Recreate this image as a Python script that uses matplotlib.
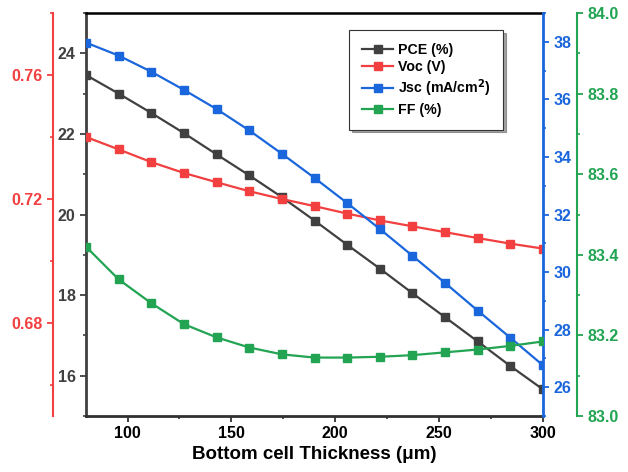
import matplotlib
matplotlib.use("Agg")
import matplotlib.pyplot as plt
from matplotlib.ticker import MultipleLocator, FormatStrFormatter

plt.rcParams['font.family'] = ['Liberation Sans', 'DejaVu Sans']
plt.rcParams['font.weight'] = 'bold'
plt.rcParams['mathtext.default'] = 'bf'

thickness = [80, 95.7, 111.4, 127.1, 142.9, 158.6, 174.3, 190, 205.7, 221.4, 237.1, 252.9, 268.6, 284.3, 300]
pce = [23.46, 23.00, 22.52, 22.02, 21.49, 20.97, 20.43, 19.85, 19.25, 18.66, 18.05, 17.45, 16.85, 16.24, 15.66]
voc = [0.7400, 0.7360, 0.7319, 0.7284, 0.7254, 0.7225, 0.7200, 0.7177, 0.7153, 0.7131, 0.7112, 0.7093, 0.7074, 0.7056, 0.7040]
jsc = [37.97, 37.52, 36.96, 36.33, 35.66, 34.92, 34.11, 33.27, 32.40, 31.50, 30.57, 29.62, 28.66, 27.72, 26.76]
ff = [83.420, 83.339, 83.280, 83.228, 83.195, 83.170, 83.153, 83.145, 83.145, 83.147, 83.151, 83.158, 83.165, 83.174, 83.185]

c_pce = '#404040'
c_voc = '#F23F3F'
c_jsc = '#1A66DC'
c_ff = '#22A453'

fig = plt.figure(figsize=(6.28, 4.72), dpi=100)
ax = fig.add_axes([0.137, 0.1186, 0.7276, 0.8539])
ax_v = ax.twinx()
ax_j = ax.twinx()
ax_f = ax.twinx()

lw = 1.6
ms = 5.2
h1, = ax.plot(thickness, pce, '-s', color=c_pce, lw=lw, ms=ms, label='PCE (%)')
h2, = ax_v.plot(thickness, voc, '-s', color=c_voc, lw=lw, ms=ms, label='Voc (V)')
h3, = ax_j.plot(thickness, jsc, '-s', color=c_jsc, lw=lw, ms=ms, label=r'Jsc (mA/cm$^2$)')
h4, = ax_f.plot(thickness, ff, '-s', color=c_ff, lw=lw, ms=ms, label='FF (%)')

ax.set_xlim(80, 300)
ax.set_ylim(15, 25)
ax_v.set_ylim(0.65, 0.78)
ax_j.set_ylim(25, 39)
ax_f.set_ylim(83.0, 84.0)

ax.xaxis.set_major_locator(MultipleLocator(50))
ax.xaxis.set_minor_locator(MultipleLocator(25))
ax.yaxis.set_major_locator(MultipleLocator(2))
ax.yaxis.set_minor_locator(MultipleLocator(1))

# Voc axis on left, offset
ax_v.yaxis.set_label_position('left')
ax_v.yaxis.tick_left()
ax_v.spines['left'].set_position(('axes', -0.0722))
ax_v.spines['left'].set_visible(True)
for s in ['right', 'top', 'bottom']:
    ax_v.spines[s].set_visible(False)
ax_v.yaxis.set_major_locator(MultipleLocator(0.04))
ax_v.yaxis.set_minor_locator(MultipleLocator(0.02))
ax_v.yaxis.set_major_formatter(FormatStrFormatter('%.2f'))
ax_v.spines['left'].set_color(c_voc)
ax_v.spines['left'].set_linewidth(1.5)
ax_v.tick_params(axis='y', which='both', colors=c_voc, labelcolor=c_voc)

# Jsc axis right
for s in ['left', 'top', 'bottom']:
    ax_j.spines[s].set_visible(False)
ax_j.spines['right'].set_color(c_jsc)
ax_j.spines['right'].set_linewidth(2)
ax_j.yaxis.set_major_locator(MultipleLocator(2))
ax_j.yaxis.set_minor_locator(MultipleLocator(1))
ax_j.tick_params(axis='y', which='both', colors=c_jsc, labelcolor=c_jsc)

# FF axis right offset
for s in ['left', 'top', 'bottom']:
    ax_f.spines[s].set_visible(False)
ax_f.spines['right'].set_position(('axes', 1.0737))
ax_f.spines['right'].set_color(c_ff)
ax_f.spines['right'].set_linewidth(1.5)
ax_f.yaxis.set_major_locator(MultipleLocator(0.2))
ax_f.yaxis.set_minor_locator(MultipleLocator(0.1))
ax_f.yaxis.set_major_formatter(FormatStrFormatter('%.1f'))
ax_f.tick_params(axis='y', which='both', colors=c_ff, labelcolor=c_ff)

# main axis spines
ax.spines['right'].set_visible(False)
ax.spines['left'].set_color(c_pce)
ax.spines['left'].set_linewidth(2)
ax.spines['bottom'].set_color('#303030')
ax.spines['bottom'].set_linewidth(2)
ax.spines['top'].set_color('black')
ax.spines['top'].set_linewidth(1.8)
ax.tick_params(axis='y', which='both', colors=c_pce, labelcolor=c_pce)
ax.tick_params(axis='x', which='both', colors='#303030', labelcolor='black')
ax.tick_params(top=False)

for a in [ax, ax_v, ax_j, ax_f]:
    a.tick_params(which='major', direction='out', length=4.5, width=1.3, labelsize=11.5, pad=3)
    a.tick_params(which='minor', direction='out', length=2.5, width=1.2)
    for lab in a.get_yticklabels() + a.get_xticklabels():
        lab.set_fontweight('bold')

ax.set_xlabel('Bottom cell Thickness (\u03bcm)', fontsize=13.5, fontweight='bold', labelpad=3)

leg = ax_f.legend(handles=[h1, h2, h3, h4], loc='upper right',
                  bbox_to_anchor=(0.9125, 0.958), borderaxespad=0,
                  frameon=True, fancybox=False, shadow=True,
                  prop={'weight': 'bold', 'size': 10.2},
                  handlelength=2.2, handletextpad=0.3, labelspacing=0.25,
                  borderpad=0.9)
leg.get_frame().set_edgecolor('#333333')
leg.get_frame().set_linewidth(0.8)

fig.savefig('out.png', dpi=100)
